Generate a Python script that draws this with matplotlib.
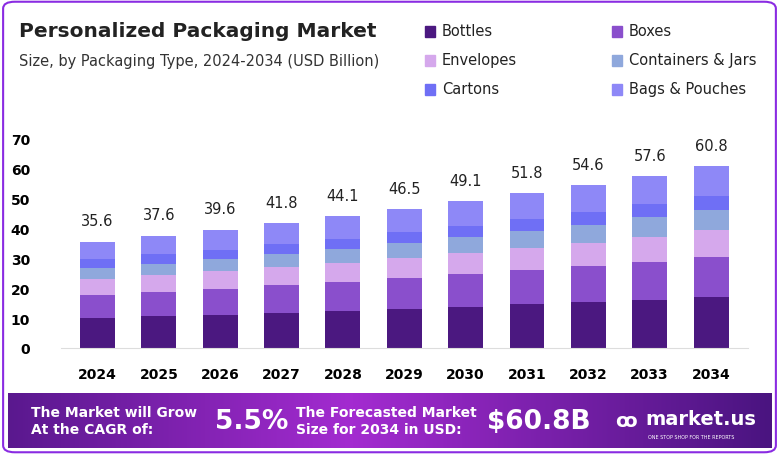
import matplotlib.pyplot as plt
import numpy as np
from matplotlib.patches import Rectangle, FancyBboxPatch
from matplotlib.colors import LinearSegmentedColormap

years = ["2024", "2025", "2026", "2027", "2028", "2029", "2030", "2031", "2032", "2033", "2034"]
totals = [35.6, 37.6, 39.6, 41.8, 44.1, 46.5, 49.1, 51.8, 54.6, 57.6, 60.8]
bottles = [10.0, 10.6, 11.1, 11.7, 12.4, 13.1, 13.8, 14.6, 15.3, 16.2, 17.1]
boxes = [7.8, 8.2, 8.7, 9.2, 9.7, 10.2, 10.8, 11.4, 12.0, 12.7, 13.4]
envelopes = [5.2, 5.5, 5.8, 6.1, 6.4, 6.8, 7.2, 7.6, 8.0, 8.4, 8.9]
containers = [3.7, 3.9, 4.1, 4.4, 4.7, 5.0, 5.3, 5.6, 6.0, 6.4, 6.8]
cartons = [3.0, 3.1, 3.2, 3.3, 3.4, 3.6, 3.8, 4.0, 4.2, 4.4, 4.6]
bags = [5.9, 6.3, 6.7, 7.1, 7.5, 7.8, 8.2, 8.6, 9.1, 9.5, 10.0]

series = [
    ("Bottles", bottles, "#4b1880"),
    ("Boxes", boxes, "#8a4fcc"),
    ("Envelopes", envelopes, "#d5a8ec"),
    ("Containers & Jars", containers, "#8fa8dc"),
    ("Cartons", cartons, "#6f6ff5"),
    ("Bags & Pouches", bags, "#8e88f7"),
]

fig = plt.figure(figsize=(7.79, 4.56), dpi=100)
fig.patch.set_facecolor("white")

# outer purple frame
fig.patches.append(FancyBboxPatch((0.004, 0.006), 0.992, 0.988, boxstyle="round,pad=0,rounding_size=0.015",
                                  transform=fig.transFigure, fill=False, edgecolor="#8a2be2", linewidth=1.5))

ax = fig.add_axes([0.078, 0.235, 0.882, 0.458])
x = np.arange(len(years))
bottom = np.zeros(len(years))
for name, vals, color in series:
    ax.bar(x, vals, 0.57, bottom=bottom, color=color, label=name)
    bottom += np.array(vals)
for xi, t in zip(x, totals):
    ax.text(xi, t + 4.5, f"{t}", ha="center", va="bottom", fontsize=10.5, color="#222222")

ax.set_xlim(-0.6, 10.6)
ax.set_ylim(0, 70)
ax.set_yticks(range(0, 71, 10))
ax.set_xticks(x)
ax.set_xticklabels(years, fontweight="bold", fontsize=10)
for lab in ax.get_yticklabels():
    lab.set_fontweight("bold")
    lab.set_fontsize(10)
for s in ["top", "right", "left"]:
    ax.spines[s].set_visible(False)
ax.spines["bottom"].set_color("#dddddd")
ax.tick_params(length=0, pad=14)
ax.tick_params(axis="y", pad=22)

fig.text(0.025, 0.93, "Personalized Packaging Market", fontsize=14.5, fontweight="bold", color="#222222", va="center")
fig.text(0.025, 0.865, "Size, by Packaging Type, 2024-2034 (USD Billion)", fontsize=10.5, color="#333333", va="center")

# legend
pos = [(0.545, 0.93), (0.785, 0.93), (0.545, 0.867), (0.785, 0.867), (0.545, 0.803), (0.785, 0.803)]
for (name, _, color), (lx, ly) in zip(series, pos):
    fig.patches.append(Rectangle((lx, ly - 0.013), 0.013, 0.024, transform=fig.transFigure, color=color))
    fig.text(lx + 0.022, ly, name, fontsize=10.5, va="center", color="#222222")

# bottom banner
bax = fig.add_axes([0.01, 0.015, 0.98, 0.12])
grad = np.linspace(0, 1, 256)
grad = np.vstack([1 - np.abs(grad - 0.45) * 1.6] * 2)
cmap = LinearSegmentedColormap.from_list("p", ["#4a1480", "#a32bd0"])
bax.imshow(grad, aspect="auto", cmap=cmap, extent=[0, 1, 0, 1])
bax.set_axis_off()
bax.text(0.03, 0.5, "The Market will Grow\nAt the CAGR of:", color="white", fontsize=10, fontweight="bold",
         va="center", linespacing=1.3)
bax.text(0.272, 0.5, "5.5%", color="white", fontsize=19, fontweight="bold", va="center")
bax.text(0.377, 0.5, "The Forecasted Market\nSize for 2034 in USD:", color="white", fontsize=10, fontweight="bold",
         va="center", linespacing=1.3)
bax.text(0.628, 0.5, "$60.8B", color="white", fontsize=19, fontweight="bold", va="center")
bax.text(0.835, 0.55, "market.us", color="white", fontsize=14, fontweight="bold", va="center")
bax.text(0.838, 0.22, "ONE STOP SHOP FOR THE REPORTS", color="white", fontsize=3.5, va="center")
bax.text(0.795, 0.5, "ꝏ", color="white", fontsize=14, fontweight="bold", va="center")

fig.savefig("out.png", dpi=100)
